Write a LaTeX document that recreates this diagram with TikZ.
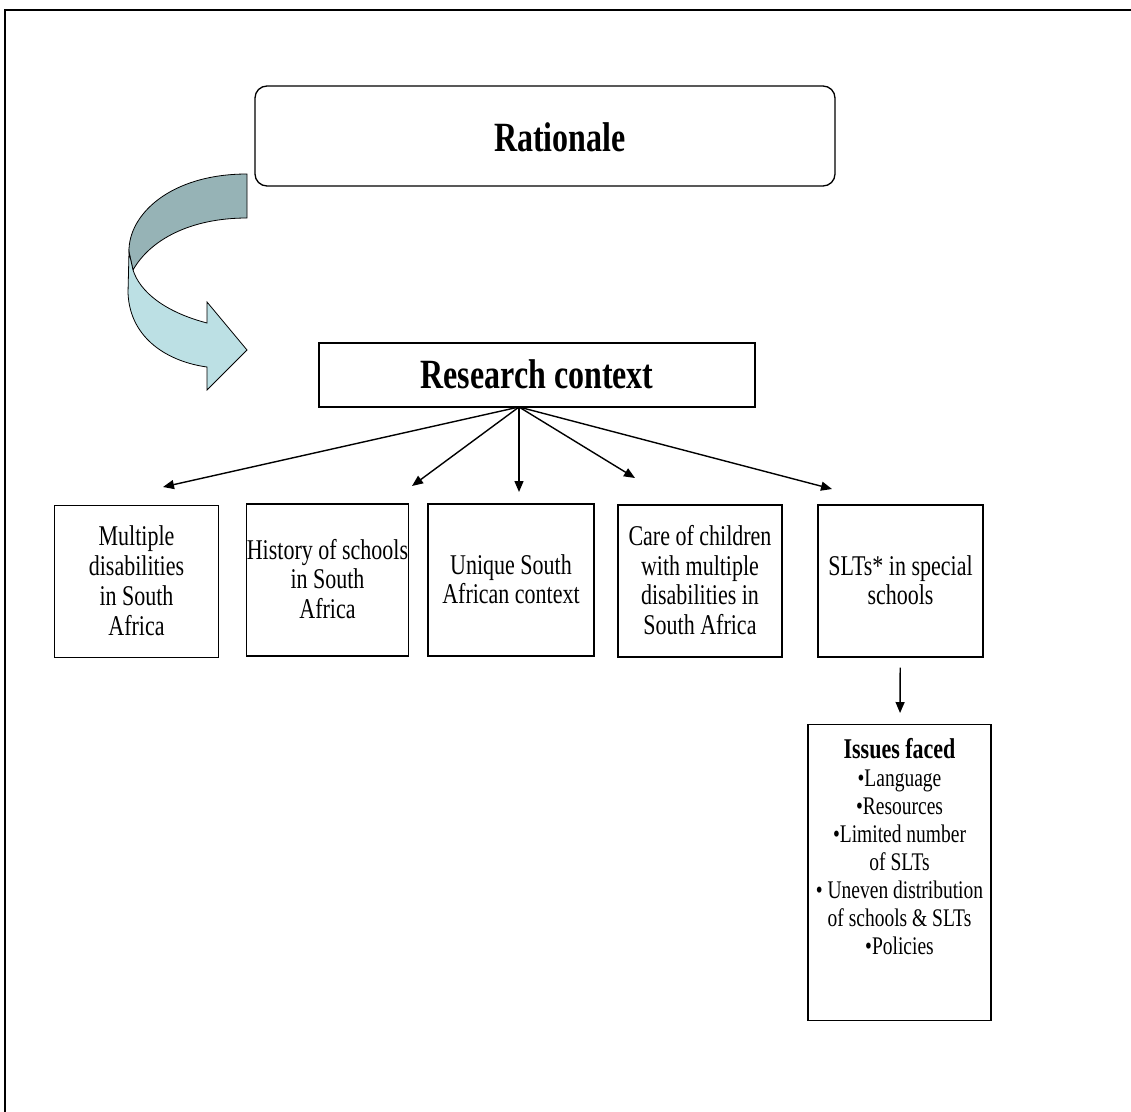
\documentclass[tikz,border=0pt]{standalone}
\usepackage{fontspec}
\setmainfont{Liberation Serif}
\usepackage{graphicx}
\usetikzlibrary{positioning,arrows.meta}
\definecolor{ribbondark}{RGB}{150,179,182}
\definecolor{ribbonlight}{RGB}{188,224,228}
\newcommand{\tallstack}[1]{\scalebox{1}[1.3]{\begin{tabular}{@{}c@{}}#1\end{tabular}}}
\newcommand{\lowered}[2]{\raisebox{-#1}[\height][\depth]{#2}}

\begin{document}
\begin{tikzpicture}[x=1pt,y=-1pt,
    topic/.style={draw,line width=1.2pt,inner sep=0pt,minimum width=164pt,
                  minimum height=152pt,font=\fontsize{22}{23}\selectfont},
    title/.style={draw,line width=1.3pt,inner sep=0pt,
                  font=\fontsize{32}{32}\selectfont\bfseries},
    arr/.style={line width=1.4pt,-{Triangle[length=11pt,width=9pt]}}]
  \useasboundingbox (0,0) rectangle (1131,1111);
  \draw[line width=2pt] (4.5,1115) -- (4.5,10) -- (1140,10);

  \node[title,rounded corners=12pt,minimum width=580pt,minimum height=100pt]
    (rationale) at (545,136) {};
  \node[font=\fontsize{32}{32}\selectfont\bfseries,inner sep=0pt] (rationaletext)
    at ([xshift=15pt,yshift=-7pt]rationale.center) {\tallstack{Rationale}};

  \draw[fill=ribbondark,line width=0.8pt] (247,174) .. controls (170,174) and (128,215) .. (129,252)
    -- (133,270) .. controls (150,240) and (190,218) .. (247,218) -- cycle;
  \draw[fill=ribbonlight,line width=0.8pt] (129,252) -- (128,293)
    .. controls (130,340) and (170,362) .. (207,367) -- (207,390) -- (247,350)
    -- (207,302) -- (207,323) .. controls (165,312) and (140,292) .. (133,270) -- cycle;

  \node[title,minimum width=436pt,minimum height=64pt] (context) at (537,375)
    {\lowered{5pt}{\tallstack{Research context}}};

  \node[topic] (disab)   at (136.5,581.5) {\lowered{3pt}{\tallstack{Multiple\\disabilities\\in South\\Africa}}};
  \node[topic,minimum width=161pt] (history) at (327.5,580)
    {\lowered{3pt}{\tallstack{History of schools\\in South\\Africa}}};
  \node[topic,minimum width=166pt] (unique)  at (511,580) {\lowered{3pt}{\tallstack{Unique South\\African context}}};
  \node[topic] (care)    at (700,581) {\lowered{3pt}{\tallstack{Care of children\\with multiple\\disabilities in\\South Africa}}};
  \node[topic,minimum width=165pt] (slts)    at (900.5,581) {\lowered{3pt}{\tallstack{SLTs* in special\\schools}}};

  \coordinate (hub) at (519,407);
  \coordinate (t1) at (163,487);
  \coordinate (t2) at (412,486);
  \coordinate (t3) at (519,492);
  \coordinate (t4) at (635,478);
  \coordinate (t5) at (832,489);
  \draw[arr] (hub) -- (t1);
  \draw[arr] (hub) -- (t2);
  \draw[arr] (hub) -- (t3);
  \draw[arr] (hub) -- (t4);
  \draw[arr] (hub) -- (t5);

  \node[draw,line width=1.2pt,inner sep=0pt,minimum width=183pt,minimum height=296pt,
        anchor=north] (issues) at (899.5,724) {};
  \node[anchor=north,inner sep=0pt,font=\fontsize{19.5}{21.5}\selectfont]
    (issuelist) at ([yshift=-14pt]issues.north)
    {\tallstack{{\fontsize{22}{21.5}\selectfont\bfseries Issues faced}\\
     •Language\\ •Resources\\ •Limited number\\ of SLTs\\
     • Uneven distribution\\ of schools \& SLTs\\ •Policies}};
  \draw[arr,shorten <=10pt,shorten >=11pt] (slts) -- (issues);
\end{tikzpicture}
\end{document}
